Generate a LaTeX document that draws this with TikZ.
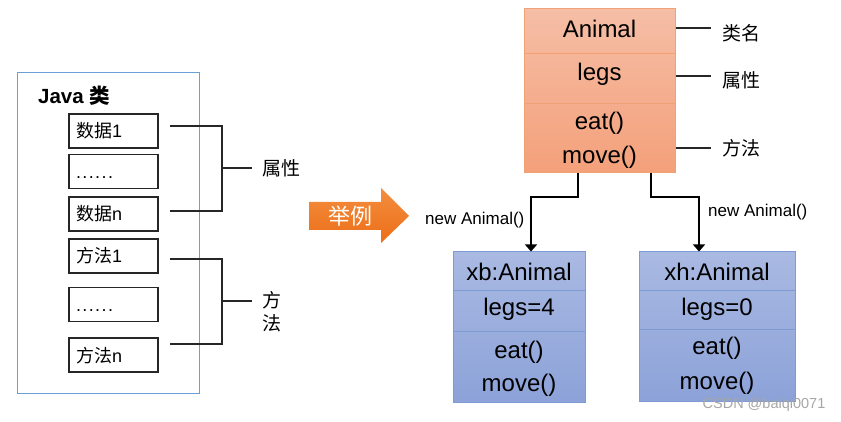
\documentclass[tikz,border=0pt]{standalone}
\usepackage{fontspec}
\setmainfont{Liberation Sans}
\newfontfamily\cjk{Noto Sans CJK SC}
\usetikzlibrary{arrows.meta}
\definecolor{javablue}{HTML}{6A9FD8}
\definecolor{orgT}{HTML}{F38E3E}
\definecolor{orgB}{HTML}{EC6E18}
\definecolor{anTop}{HTML}{F5BEA6}
\definecolor{anBot}{HTML}{F4A07A}
\definecolor{anLine}{HTML}{F0A274}
\definecolor{blTop}{HTML}{A9B9E2}
\definecolor{blBot}{HTML}{8CA2D8}
\definecolor{blLine}{HTML}{7E9BD6}
\newcommand\sixdots{.\kern1.4pt.\kern1.4pt.\kern1.4pt.\kern1.4pt.\kern1.4pt.}
\tikzset{
  fs/.style={font=\fontsize{#1}{#1}\selectfont},
  outerbox/.style={draw=javablue, line width=1pt, minimum width=182pt, minimum height=320pt, inner sep=0pt},
  itembox/.style={draw=black!85, line width=1.1pt, minimum height=34pt, text width=75pt, text height=15pt, text depth=1pt, inner sep=7pt, align=left, fs=18},
  bracket/.style={draw=black!85, line width=1.1pt},
  animalbox/.style={draw=anLine, line width=1pt, top color=anTop, bottom color=anBot, minimum width=151pt, minimum height=164pt, inner sep=0pt},
  objbox/.style={draw=blLine, line width=1pt, top color=blTop, bottom color=blBot, inner sep=0pt},
  anline/.style={draw=anLine, line width=0.8pt},
  blline/.style={draw=blLine, line width=0.8pt},
  cls/.style={fs=24, inner sep=0pt},
  side/.style={fs=19, inner sep=0pt, anchor=west},
  conn/.style={draw=black, line width=1.1pt, -{Triangle[width=12pt,length=7pt]}},
  small/.style={fs=17, inner sep=0pt},
}
\begin{document}
\begin{tikzpicture}[x=1pt,y=-1pt]
\useasboundingbox (0,0) rectangle (841,422);
% left Java class
\node[outerbox] (java) at (108,233) {};
\node[fs=20.5, inner sep=0pt, anchor=west] (javat) at (38,96) {\textbf{Java} {\cjk\bfseries 类}};
\node[itembox] (d1) at (113.5,131) {{\cjk 数据}1};
\node[itembox] (d2) at (113.5,171.5) {\sixdots};
\node[itembox] (dn) at (113.5,214) {{\cjk 数据}n};
\node[itembox] (m1) at (113.5,256) {{\cjk 方法}1};
\node[itembox] (m2) at (113.5,304.5) {\sixdots};
\node[itembox] (mn) at (113.5,355) {{\cjk 方法}n};
% brackets
\coordinate (a1) at (170,126); \coordinate (a2) at (170,211);
\coordinate (ac) at (222,168);
\node[side] (attr) at (262,168) {\cjk 属性};
\draw[bracket] (a1) -| (ac) |- (a2);
\draw[bracket] (ac) -- ++(30,0);
\coordinate (b1) at (170,259); \coordinate (b2) at (170,344);
\coordinate (bc) at (222,301);
\node[inner sep=0pt, align=center, font=\cjk\fontsize{19}{23}\selectfont] (meth) at (272,312) {方\\法};
\draw[bracket] (b1) -| (bc) |- (b2);
\draw[bracket] (bc) -- ++(30,0);
% big arrow
\shade[top color=orgT, bottom color=orgB] (309,202) -- (381,202) -- (381,188) -- (409,216) -- (381,243) -- (381,230) -- (309,230) -- cycle;
\node[inner sep=0pt, text=white, font=\cjk\fontsize{22}{22}\selectfont] (ex) at (350,216) {举例};
% Animal class
\node[animalbox] (animal) at (599.5,91) {};
\draw[anline] (524,53) -- (675,53);
\draw[anline] (524,103) -- (675,103);
\node[cls] (an1) at (599.5,29) {Animal};
\node[cls] (an2) at (599.5,74) {legs};
\node[cls] (an3) at (599.5,123) {eat()};
\node[cls] (an4) at (599.5,157) {move()};
\node[side] (lb1) at (722,33) {\cjk 类名};
\node[side] (lb2) at (722,80) {\cjk 属性};
\node[side] (lb3) at (722,148) {\cjk 方法};
\draw[bracket] (animal.east |- 0,28) -- ([xshift=-11pt]lb1.west |- 0,28);
\draw[bracket] (animal.east |- 0,76) -- ([xshift=-11pt]lb2.west |- 0,76);
\draw[bracket] (animal.east |- 0,148) -- ([xshift=-11pt]lb3.west);
% objects
\node[objbox, minimum width=132pt, minimum height=150pt] (xb) at (519,327) {};
\draw[blline] (453,290) -- (585,290);
\draw[blline] (453,331) -- (585,331);
\node[cls] (xb1) at (519,272) {xb:Animal};
\node[cls] (xb2) at (519,309) {legs=4};
\node[cls] (xb3) at (519,352) {eat()};
\node[cls] (xb4) at (519,385) {move()};
\node[objbox, minimum width=156pt, minimum height=149pt] (xh) at (717,326.5) {};
\draw[blline] (639,290) -- (795,290);
\draw[blline] (639,329) -- (795,329);
\node[cls] (xh1) at (717,272) {xh:Animal};
\node[cls] (xh2) at (717,309) {legs=0};
\node[cls] (xh3) at (717,348) {eat()};
\node[cls] (xh4) at (717,383) {move()};
% connectors
\draw[conn] ([xshift=-21.5pt]animal.south) |- (531,197) -- ([xshift=12pt]xb.north);
\draw[conn] ([xshift=51.5pt]animal.south) |- (699,197) -- ([xshift=-18pt]xh.north);
\node[small, anchor=west] (new1) at (425,220) {new Animal()};
\node[small, anchor=west] (new2) at (708,212) {new Animal()};
% watermark
\node[fs=14.5, inner sep=0pt, text=black!35] (wm) at (764,405) {CSDN @baiqi0071};
\end{tikzpicture}
\end{document}
